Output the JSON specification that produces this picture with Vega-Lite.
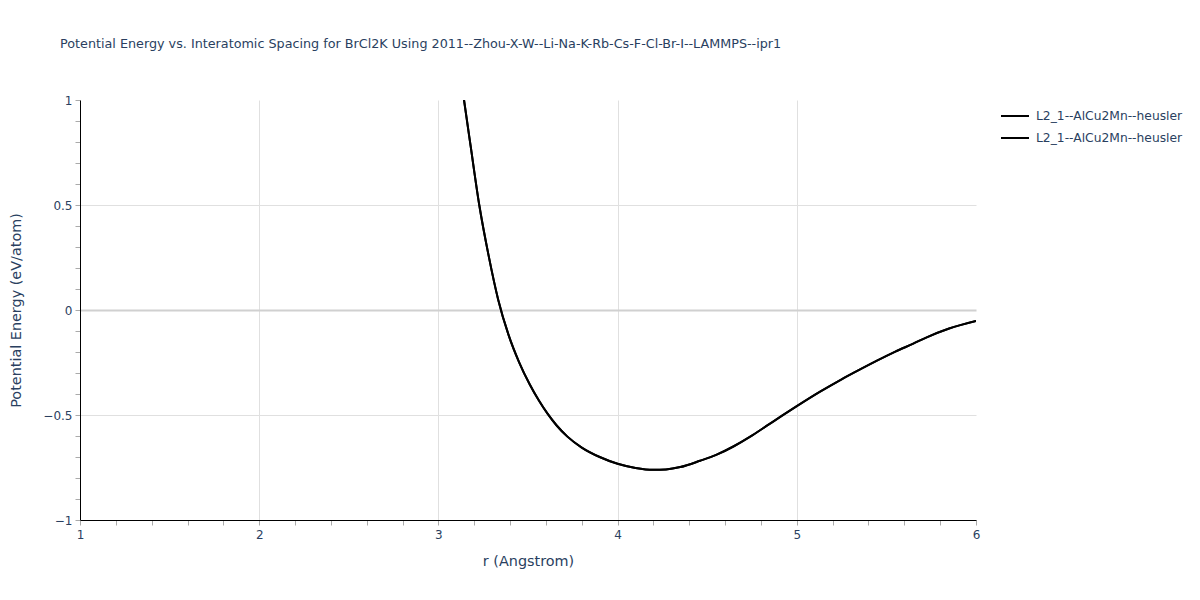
{
  "$schema": "https://vega.github.io/schema/vega-lite/v6.json",
  "autosize": "none",
  "width": 896,
  "height": 420,
  "padding": {"left": 80, "top": 100, "right": 224, "bottom": 80},
  "background": "white",
  "title": {
    "text": "Potential Energy vs. Interatomic Spacing for BrCl2K Using 2011--Zhou-X-W--Li-Na-K-Rb-Cs-F-Cl-Br-I--LAMMPS--ipr1",
    "anchor": "start",
    "frame": "group",
    "dx": -20,
    "offset": 43,
    "font": "DejaVu Sans",
    "fontSize": 12.75,
    "fontWeight": "normal",
    "color": "#2a3f5f"
  },
  "config": {
    "view": {"stroke": null},
    "axis": {
      "labelFont": "DejaVu Sans",
      "titleFont": "DejaVu Sans",
      "labelColor": "#2a3f5f",
      "titleColor": "#2a3f5f",
      "labelFontSize": 12,
      "titleFontSize": 14.4,
      "titleFontWeight": "normal",
      "domainColor": "#000000",
      "domainWidth": 1,
      "tickColor": "#aaaaaa",
      "tickSize": 5,
      "tickWidth": 1,
      "labelOverlap": false
    },
    "legend": {
      "labelFont": "DejaVu Sans",
      "labelFontSize": 12.3,
      "labelColor": "#2a3f5f"
    }
  },
  "data": {
    "values": [
      {"r": 3.10, "energy": 1.27, "series": "a"},
      {"r": 3.143, "energy": 1.0, "series": "a"},
      {"r": 3.18, "energy": 0.78, "series": "a"},
      {"r": 3.228, "energy": 0.50, "series": "a"},
      {"r": 3.28, "energy": 0.26, "series": "a"},
      {"r": 3.334, "energy": 0.048, "series": "a"},
      {"r": 3.39, "energy": -0.115, "series": "a"},
      {"r": 3.45, "energy": -0.248, "series": "a"},
      {"r": 3.51, "energy": -0.355, "series": "a"},
      {"r": 3.56, "energy": -0.43, "series": "a"},
      {"r": 3.61, "energy": -0.495, "series": "a"},
      {"r": 3.66, "energy": -0.55, "series": "a"},
      {"r": 3.72, "energy": -0.603, "series": "a"},
      {"r": 3.80, "energy": -0.655, "series": "a"},
      {"r": 3.90, "energy": -0.70, "series": "a"},
      {"r": 4.00, "energy": -0.732, "series": "a"},
      {"r": 4.10, "energy": -0.752, "series": "a"},
      {"r": 4.20, "energy": -0.761, "series": "a"},
      {"r": 4.27, "energy": -0.759, "series": "a"},
      {"r": 4.35, "energy": -0.748, "series": "a"},
      {"r": 4.46, "energy": -0.718, "series": "a"},
      {"r": 4.55, "energy": -0.69, "series": "a"},
      {"r": 4.646, "energy": -0.65, "series": "a"},
      {"r": 4.74, "energy": -0.603, "series": "a"},
      {"r": 4.831, "energy": -0.552, "series": "a"},
      {"r": 4.92, "energy": -0.502, "series": "a"},
      {"r": 5.00, "energy": -0.458, "series": "a"},
      {"r": 5.13, "energy": -0.389, "series": "a"},
      {"r": 5.25, "energy": -0.33, "series": "a"},
      {"r": 5.353, "energy": -0.283, "series": "a"},
      {"r": 5.45, "energy": -0.24, "series": "a"},
      {"r": 5.55, "energy": -0.198, "series": "a"},
      {"r": 5.65, "energy": -0.16, "series": "a"},
      {"r": 5.725, "energy": -0.13, "series": "a"},
      {"r": 5.85, "energy": -0.088, "series": "a"},
      {"r": 6.0, "energy": -0.052, "series": "a"},
      {"r": 3.10, "energy": 1.27, "series": "b"},
      {"r": 3.143, "energy": 1.0, "series": "b"},
      {"r": 3.18, "energy": 0.78, "series": "b"},
      {"r": 3.228, "energy": 0.50, "series": "b"},
      {"r": 3.28, "energy": 0.26, "series": "b"},
      {"r": 3.334, "energy": 0.048, "series": "b"},
      {"r": 3.39, "energy": -0.115, "series": "b"},
      {"r": 3.45, "energy": -0.248, "series": "b"},
      {"r": 3.51, "energy": -0.355, "series": "b"},
      {"r": 3.56, "energy": -0.43, "series": "b"},
      {"r": 3.61, "energy": -0.495, "series": "b"},
      {"r": 3.66, "energy": -0.55, "series": "b"},
      {"r": 3.72, "energy": -0.603, "series": "b"},
      {"r": 3.80, "energy": -0.655, "series": "b"},
      {"r": 3.90, "energy": -0.70, "series": "b"},
      {"r": 4.00, "energy": -0.732, "series": "b"},
      {"r": 4.10, "energy": -0.752, "series": "b"},
      {"r": 4.20, "energy": -0.761, "series": "b"},
      {"r": 4.27, "energy": -0.759, "series": "b"},
      {"r": 4.35, "energy": -0.748, "series": "b"},
      {"r": 4.46, "energy": -0.718, "series": "b"},
      {"r": 4.55, "energy": -0.69, "series": "b"},
      {"r": 4.646, "energy": -0.65, "series": "b"},
      {"r": 4.74, "energy": -0.603, "series": "b"},
      {"r": 4.831, "energy": -0.552, "series": "b"},
      {"r": 4.92, "energy": -0.502, "series": "b"},
      {"r": 5.00, "energy": -0.458, "series": "b"},
      {"r": 5.13, "energy": -0.389, "series": "b"},
      {"r": 5.25, "energy": -0.33, "series": "b"},
      {"r": 5.353, "energy": -0.283, "series": "b"},
      {"r": 5.45, "energy": -0.24, "series": "b"},
      {"r": 5.55, "energy": -0.198, "series": "b"},
      {"r": 5.65, "energy": -0.16, "series": "b"},
      {"r": 5.725, "energy": -0.13, "series": "b"},
      {"r": 5.85, "energy": -0.088, "series": "b"},
      {"r": 6.0, "energy": -0.052, "series": "b"}
    ]
  },
  "mark": {"type": "line", "strokeWidth": 2, "clip": true, "interpolate": "monotone"},
  "encoding": {
    "x": {
      "field": "r",
      "type": "quantitative",
      "scale": {"domain": [1, 6], "nice": false, "zero": false},
      "axis": {
        "title": "r (Angstrom)",
        "values": [1, 1.2, 1.4, 1.6, 1.8, 2, 2.2, 2.4, 2.6, 2.8, 3, 3.2, 3.4, 3.6, 3.8, 4, 4.2, 4.4, 4.6, 4.8, 5, 5.2, 5.4, 5.6, 5.8, 6],
        "labelExpr": "abs(datum.value - round(datum.value)) < 1e-6 ? format(datum.value, 'd') : ''",
        "labelOverlap": false,
        "grid": true,
        "gridColor": {"condition": {"test": "datum.value == 2 || datum.value == 3 || datum.value == 4 || datum.value == 5", "value": "#e0e0e0"}, "value": "rgba(255,255,255,0)"},
        "labelPadding": 4,
        "titlePadding": 14,
        "labelFlush": false
      }
    },
    "y": {
      "field": "energy",
      "type": "quantitative",
      "scale": {"domain": [-1, 1], "nice": false, "zero": false},
      "axis": {
        "title": "Potential Energy (eV/atom)",
        "values": [-1, -0.9, -0.8, -0.7, -0.6, -0.5, -0.4, -0.3, -0.2, -0.1, 0, 0.1, 0.2, 0.3, 0.4, 0.5, 0.6, 0.7, 0.8, 0.9, 1],
        "labelExpr": "abs(datum.value*2 - round(datum.value*2)) < 1e-6 ? format(datum.value, '~g') : ''",
        "labelOverlap": false,
        "grid": true,
        "gridColor": {"condition": {"test": "abs(datum.value) < 1e-6", "value": "#d0d0d0"}, "value": "#e0e0e0"},
        "gridOpacity": {"condition": {"test": "abs(abs(datum.value) - 0.5) < 1e-6 || abs(datum.value) < 1e-6", "value": 1}, "value": 0},
        "gridWidth": {"condition": {"test": "abs(datum.value) < 1e-6", "value": 2}, "value": 1},
        "labelPadding": 3,
        "titlePadding": 19,
        "labelFlush": false
      }
    },
    "color": {
      "field": "series",
      "type": "nominal",
      "scale": {"domain": ["a", "b"], "range": ["#000000", "#000000"]},
      "legend": {
        "title": null,
        "orient": "none",
        "legendX": 920,
        "legendY": 1,
        "symbolType": "stroke",
        "symbolSize": 784,
        "symbolStrokeWidth": 2,
        "labelOffset": 6,
        "rowPadding": -8,
        "labelExpr": "'L2_1--AlCu2Mn--heusler'"
      }
    }
  }
}
